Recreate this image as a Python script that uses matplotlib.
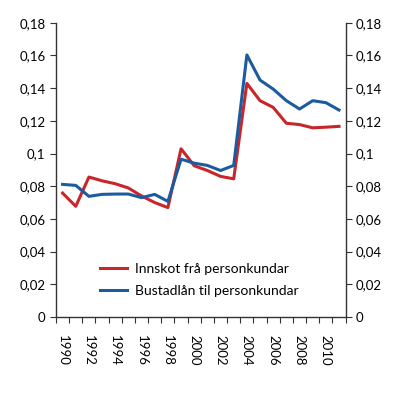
import matplotlib.pyplot as plt
from matplotlib.ticker import FuncFormatter

plt.rcParams['font.family'] = ['Lato', 'DejaVu Sans']

years = list(range(1990, 2012))
innskot = [0.0758, 0.0677, 0.0856, 0.0833, 0.0815, 0.0789, 0.0740, 0.0700, 0.0669, 0.1029,
           0.0925, 0.0896, 0.0860, 0.0845, 0.1429, 0.1323, 0.1282, 0.1185, 0.1177, 0.1157,
           0.1161, 0.1166]
bustadlan = [0.0811, 0.0805, 0.0738, 0.0750, 0.0752, 0.0752, 0.0730, 0.0750, 0.0707, 0.0965,
             0.0941, 0.0927, 0.0896, 0.0927, 0.1603, 0.1449, 0.1394, 0.1323, 0.1272, 0.1323,
             0.1311, 0.1266]
labels = ["Innskot frå personkundar", "Bustadlån til personkundar"]
yticks = [0, 0.02, 0.04, 0.06, 0.08, 0.1, 0.12, 0.14, 0.16, 0.18]

red = "#c8262a"
blue = "#1b5c9e"

fig = plt.figure(figsize=(4, 3.95), dpi=100)
ax = fig.add_axes([0.14, 0.1975, 0.724, 0.745])

ax.plot(years, innskot, color=red, lw=2.2, label=labels[0])
ax.plot(years, bustadlan, color=blue, lw=2.2, label=labels[1])

ax.set_xlim(years[0] - 0.5, years[-1] + 0.5)
ax.set_ylim(0, 0.18)

fmt = FuncFormatter(lambda v, p: "0" if v == 0 else ("%g" % round(v, 2)).replace(".", ","))
ax.set_yticks(yticks)
ax.yaxis.set_major_formatter(fmt)
ax.tick_params(axis='y', which='both', direction='out', length=4, labelsize=9.5,
               left=True, right=True, labelleft=True, labelright=True, color='#333333')

# year boundaries as ticks, labels every other year in between
ax.set_xticks([y - 0.5 for y in years] + [years[-1] + 0.5])
ax.set_xticklabels([])
ax.set_xticks(years[::2], minor=True)
ax.set_xticklabels([str(y) for y in years[::2]], minor=True, rotation=270, fontsize=9.5)
ax.tick_params(axis='x', which='major', direction='out', length=4, color='#333333')
ax.tick_params(axis='x', which='minor', length=0, pad=13)

ax.spines['top'].set_visible(False)
for s in ['left', 'right', 'bottom']:
    ax.spines[s].set_color('#333333')
    ax.spines[s].set_linewidth(1)

ax.legend(loc='lower left', bbox_to_anchor=(0.11, 0.025), frameon=False, fontsize=10,
          handlelength=1.9, handletextpad=0.6, labelspacing=0.75)

fig.savefig("out.png", dpi=100)
